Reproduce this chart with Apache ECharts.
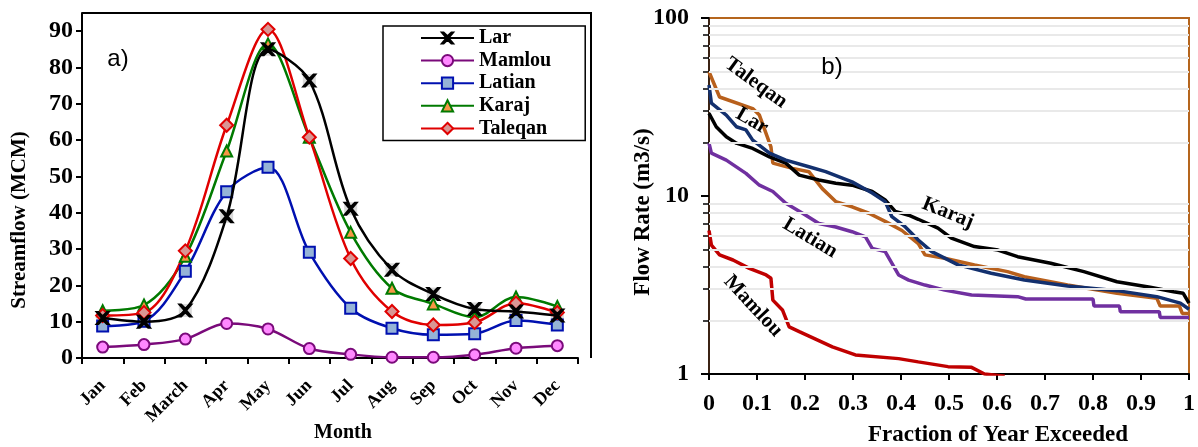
<!DOCTYPE html>
<html>
<head>
<meta charset="utf-8">
<script src="https://cdn.jsdelivr.net/npm/echarts@6/dist/echarts.min.js"></script>
<style>
html,body{margin:0;padding:0;background:#fff;}
#main{width:1198px;height:447px;}
</style>
</head>
<body>
<div id="main"></div>
<script>
// ---------- Panel a) monthly streamflow (MCM) ----------
const months = ['Jan','Feb','March','Apr','May','Jun','Jul','Aug','Sep','Oct','Nov','Dec'];
const larMonthly     = [11.0, 10.0, 13.1, 39.0, 85.0, 76.4, 41.1, 24.3, 17.6, 13.5, 12.8, 11.7];
const mamlouMonthly  = [3.0, 3.7, 5.2, 9.5, 8.0, 2.6, 1.0, 0.2, 0.2, 0.9, 2.7, 3.4];
const latianMonthly  = [8.8, 10.1, 23.9, 45.8, 52.5, 29.1, 13.7, 8.2, 6.4, 6.7, 10.3, 9.1];
const karajMonthly   = [13.0, 14.6, 28.0, 57.0, 86.5, 60.8, 34.6, 19.2, 14.9, 11.2, 16.8, 14.2];
const taleqanMonthly = [11.7, 12.5, 29.5, 64.1, 90.5, 60.8, 27.4, 12.8, 9.1, 9.8, 15.1, 12.5];
const streamflowTicks = [0, 10, 20, 30, 40, 50, 60, 70, 80, 90];

// ---------- Panel b) flow duration curves [fraction exceeded, flow m3/s] ----------
const taleqanFDC = [[0,49.9],[0.022,36],[0.091,31],[0.105,28.5],[0.129,18.9],[0.133,15.3],[0.174,14.3],[0.208,13.7],[0.236,11.0],[0.264,9.3],[0.298,8.7],[0.333,8.0],[0.367,7.2],[0.402,6.4],[0.436,5.4],[0.45,4.67],[0.491,4.47],[0.553,4.1],[0.622,3.76],[0.657,3.52],[0.747,3.16],[0.85,2.84],[0.933,2.66],[0.94,2.41],[0.98,2.41],[0.986,2.19],[1,2.19]];
const larFDC = [[0,42],[0.005,33.2],[0.036,28.5],[0.057,24.5],[0.077,23.5],[0.091,20.6],[0.126,17.4],[0.16,15.9],[0.208,14.6],[0.243,13.7],[0.298,12.0],[0.34,10.4],[0.367,9.3],[0.381,7.65],[0.409,6.7],[0.436,5.66],[0.464,4.87],[0.519,4.1],[0.588,3.68],[0.657,3.37],[0.747,3.12],[0.85,2.94],[0.933,2.72],[0.982,2.5],[1,2.31]];
const karajFDC = [[0,29.1],[0.015,24.5],[0.036,21.5],[0.057,19.8],[0.091,18.5],[0.126,16.6],[0.16,15.3],[0.188,13.1],[0.229,12.3],[0.264,11.8],[0.298,11.5],[0.34,10.6],[0.367,9.5],[0.388,8.2],[0.416,7.8],[0.436,7.4],[0.477,6.6],[0.505,5.8],[0.553,5.2],[0.602,4.97],[0.643,4.56],[0.712,4.19],[0.781,3.76],[0.85,3.3],[0.919,3.07],[0.968,2.9],[0.988,2.84],[1,2.5]];
const latianFDC = [[0,19.8],[0.005,17.4],[0.036,15.9],[0.077,13.4],[0.105,11.5],[0.133,10.6],[0.16,9.1],[0.195,8.0],[0.229,7.0],[0.264,6.7],[0.298,6.3],[0.326,5.9],[0.34,5.08],[0.367,4.87],[0.395,3.6],[0.416,3.37],[0.45,3.16],[0.491,2.96],[0.547,2.78],[0.643,2.72],[0.66,2.64],[0.8,2.64],[0.802,2.41],[0.855,2.41],[0.857,2.24],[0.938,2.24],[0.94,2.08],[1,2.08]];
const mamlouFDC = [[0,6.4],[0.005,5.3],[0.022,4.67],[0.05,4.37],[0.084,3.92],[0.119,3.6],[0.129,3.45],[0.133,2.6],[0.153,2.29],[0.167,1.84],[0.188,1.73],[0.222,1.57],[0.257,1.42],[0.305,1.28],[0.395,1.22],[0.436,1.17],[0.498,1.1],[0.547,1.09],[0.574,1.0],[0.616,0.97]];
const flowMinorTicks = [2,3,4,5,6,7,8,9,20,30,40,50,60,70,80,90];

const serif = '"Liberation Serif","Times New Roman",serif';
const chart = echarts.init(document.getElementById('main'), null, {renderer:'canvas'});

const xMark = 'path://M0,0H3L10,7L17,0H20L11.5,10L20,20H17L10,13L3,20H0L8.5,10Z';
const SMOOTH = 0.33;

function monthlySeries(name, data, color, symbol, fill, size, z){
  return {
    name, type:'line', xAxisIndex:0, yAxisIndex:0, data,
    smooth:SMOOTH, symbol, symbolSize:size, z:z||3,
    lineStyle:{color, width:2.5},
    itemStyle:{color:fill, borderColor:color, borderWidth:2}
  };
}
function fdcSeries(name, data, color){
  return {
    name, type:'line', xAxisIndex:1, yAxisIndex:1, data,
    symbol:'none', clip:true, z:4,
    lineStyle:{color, width:3.5}
  };
}
function label(text, x, y, deg, font){
  return {type:'text', x, y, z:100, rotation:deg*Math.PI/180,
    style:{text, font, fill:'#000', align:'center', verticalAlign:'middle'}};
}

const option = {
  animation:false,
  backgroundColor:'#fff',
  grid:[
    {left:82, top:13, width:496, height:345, show:false},
    {left:709, top:18, width:483, height:356, show:true, borderColor:'#B5651D', borderWidth:2, backgroundColor:'transparent'}
  ],
  legend:{
    data:['Lar','Mamlou','Latian','Karaj','Taleqan'],
    orient:'vertical', left:383, top:26,
    padding:[2,34,2,37],
    itemWidth:53, itemHeight:14, itemGap:2.6,
    borderColor:'#000', borderWidth:1.5,
    textStyle:{fontFamily:serif, fontWeight:'bold', fontSize:20, color:'#000', lineHeight:20}
  },
  xAxis:[
    {gridIndex:0, type:'category', data:months, boundaryGap:true,
     axisLine:{lineStyle:{color:'#000', width:2}},
     axisTick:{show:true, inside:false, length:6, lineStyle:{color:'#000', width:2}},
     axisLabel:{rotate:45, margin:25, interval:0, fontFamily:serif, fontWeight:'bold', fontSize:18, color:'#000'},
     splitLine:{show:false}},
    {gridIndex:1, type:'value', min:0, max:1, interval:0.1,
     axisLine:{lineStyle:{color:'#000', width:2}},
     axisTick:{show:true, length:6, lineStyle:{color:'#000', width:2}},
     axisLabel:{margin:18, fontFamily:serif, fontWeight:'bold', fontSize:24, color:'#000',
       formatter:v=>String(Math.round(v*10)/10)},
     splitLine:{show:false}}
  ],
  yAxis:[
    {gridIndex:0, type:'value', min:0, max:95, interval:10,
     axisLine:{show:true, lineStyle:{color:'#000', width:2}},
     axisTick:{show:true, length:6, lineStyle:{color:'#000', width:2}},
     axisLabel:{margin:9, showMaxLabel:false, fontFamily:serif, fontWeight:'bold', fontSize:24, color:'#000',
       formatter:v=>streamflowTicks.includes(v)?String(v):''},
     splitLine:{show:false}},
    {gridIndex:1, type:'log', logBase:10, min:1, max:100, position:'left',
     axisLine:{show:true, lineStyle:{color:'#3b2314', width:2}},
     axisTick:{show:true, length:8, lineStyle:{color:'#000', width:2}},
     axisLabel:{margin:20, fontFamily:serif, fontWeight:'bold', fontSize:24, color:'#000'},
     splitLine:{show:false}},
    {gridIndex:1, type:'log', logBase:10, min:1, max:100, position:'left', offset:0,
     axisLine:{show:false},
     axisTick:{show:true, length:6, customValues:flowMinorTicks, lineStyle:{color:'#000', width:1.5}},
     axisLabel:{show:false},
     splitLine:{show:false}}
  ],
  series:[
    // gray marker backdrop for Lar (drawn from the same values)
    {name:'LarBack', type:'line', xAxisIndex:0, yAxisIndex:0, data:larMonthly, smooth:SMOOTH,
     symbol:'rect', symbolSize:13, z:2, lineStyle:{width:0, opacity:0},
     itemStyle:{color:'#d9d9d9', borderWidth:0}},
    monthlySeries('Lar', larMonthly, '#000000', xMark, '#000000', 12, 4),
    monthlySeries('Mamlou', mamlouMonthly, '#7a0a7a', 'circle', '#ff88ff', 11),
    monthlySeries('Latian', latianMonthly, '#0010b0', 'rect', '#95b3d7', 11),
    monthlySeries('Karaj', karajMonthly, '#007a00', 'triangle', '#f79646', 11),
    monthlySeries('Taleqan', taleqanMonthly, '#e00000', 'diamond', '#d99694', 13),
    // minor gridlines of the log axis
    {name:'minorGrid', type:'line', xAxisIndex:1, yAxisIndex:1, data:[], z:1,
     markLine:{silent:true, symbol:['none','none'], label:{show:false}, animation:false,
       lineStyle:{color:'#e9e9e9', width:2, type:'solid'},
       data:flowMinorTicks.map(v=>({yAxis:v}))}},
    fdcSeries('Taleqan FDC', taleqanFDC, '#b8601c'),
    fdcSeries('Latian FDC', latianFDC, '#7030a0'),
    fdcSeries('Mamlou FDC', mamlouFDC, '#c00000'),
    fdcSeries('Karaj FDC', karajFDC, '#000000'),
    fdcSeries('Lar FDC', larFDC, '#13306e')
  ],
  graphic:[
    {type:'polyline', z:100, shape:{points:[[82,13],[591,13],[591,358]]}, style:{stroke:'#000', lineWidth:2, fill:null}},
    label('Streamflow (MCM)', 20, 220, 90, 'bold 21px '+serif),
    label('Month', 343, 433, 0, 'bold 20px '+serif),
    label('a)', 118, 59, 0, '24px "Liberation Sans",Arial,sans-serif'),
    label('Flow Rate (m3/s)', 643, 212, 90, 'bold 23px '+serif),
    label('Fraction of Year Exceeded', 998, 435, 0, 'bold 23px '+serif),
    label('b)', 832, 67, 0, '24px "Liberation Sans",Arial,sans-serif'),
    label('Taleqan', 756, 83, -36, 'bold 21px '+serif),
    label('Lar', 752, 121, -30, 'bold 21px '+serif),
    label('Karaj', 948, 213, -22, 'bold 21px '+serif),
    label('Latian', 810, 238, -31, 'bold 21px '+serif),
    label('Mamlou', 753, 306, -47, 'bold 21px '+serif)
  ]
};
chart.setOption(option);
</script>
</body>
</html>
